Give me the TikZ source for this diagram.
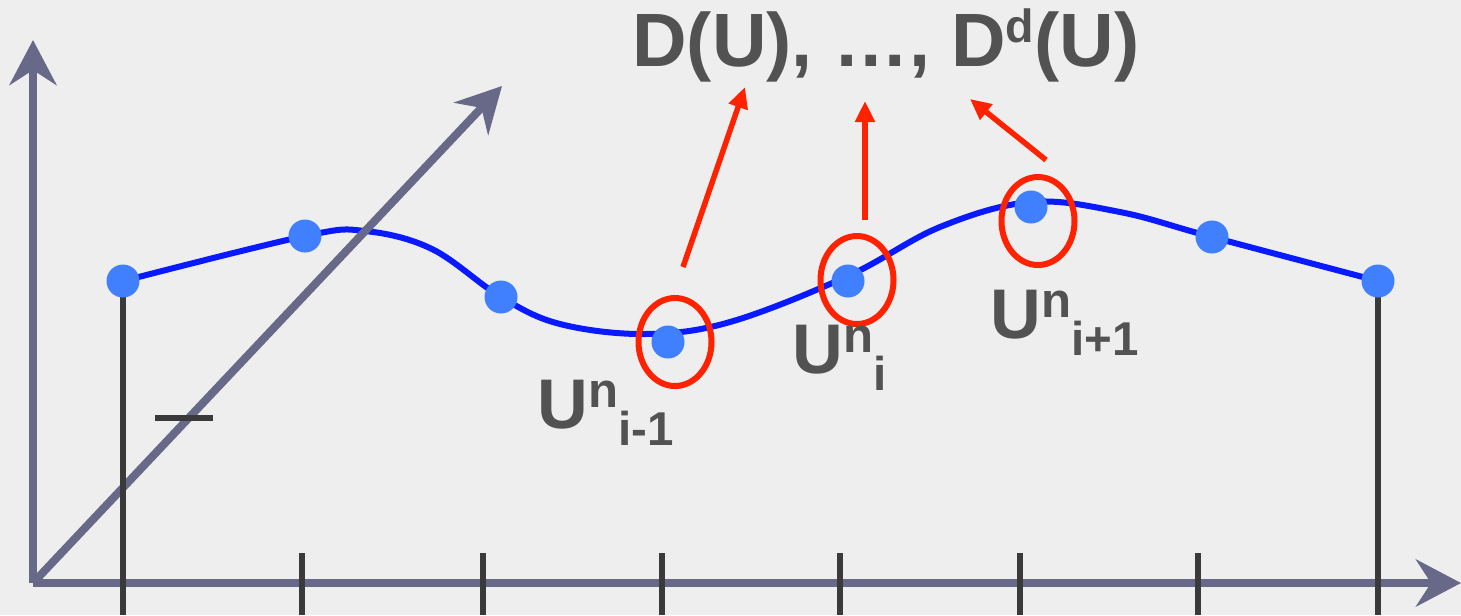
\documentclass[tikz,border=0pt]{standalone}
\usepackage{fontspec}
\setmainfont{Liberation Sans}
\usetikzlibrary{arrows.meta,shapes.geometric}
\definecolor{bggray}{RGB}{238,238,238}
\definecolor{axisgray}{RGB}{104,104,136}
\definecolor{stemgray}{RGB}{58,58,58}
\definecolor{curveblue}{RGB}{10,26,255}
\definecolor{dotblue}{RGB}{64,128,255}
\definecolor{ringred}{RGB}{255,34,0}
\definecolor{labgray}{RGB}{82,82,82}
\newcommand{\ulab}[1]{U\raisebox{4.2mm}{\fontsize{28}{28}\selectfont n}\raisebox{-3.5mm}{\fontsize{27}{27}\selectfont #1}}
\begin{document}
\begin{tikzpicture}[x=0.2mm,y=-0.2mm,line join=round,
	axis/.style={draw=axisgray,line width=1.6mm,-{Stealth[length=9mm,width=9.4mm,inset=3mm]}},
	stem/.style={draw=stemgray,line width=1.1mm},
	curve/.style={draw=curveblue,line width=1.2mm},
	dot/.style={circle,fill=dotblue,minimum size=6.6mm,inner sep=0},
	ring/.style={ellipse,draw=ringred,line width=1.2mm,minimum width=14.6mm,minimum height=17.6mm,inner sep=0},
	pick/.style={draw=ringred,line width=1.1mm,-{Triangle[length=4.2mm,width=3.8mm]}},
	lab/.style={anchor=base west,inner sep=0,text=labgray,font=\bfseries\fontsize{40}{40}\selectfont}]
	\useasboundingbox (0,0) rectangle (1461,615);
	\fill[bggray] (0,0) rectangle (1461,615);
	% the function
	\draw[curve] plot[smooth,tension=0.6] coordinates {(123,281) (305,236) (365,231) (432,249) (501,297) (560,324) (645,334) (730,322) (848,276) (940,227) (1031,202) (1120,212) (1212,237) (1378,281)};
	% axes
	\coordinate (O) at (33,583);
	\coordinate (xend) at (1461,583);
	\coordinate (yend) at (33,40);
	\coordinate (zend) at (502,86);
	\draw[axis] (O) -- (xend);
	\draw[axis] (O) -- (yend);
	\draw[axis] (O) -- (zend);
	% grid points
	\foreach \x in {302,483,662,840,1020,1198}
		\draw[stem] (\x,553) -- (\x,615);
	\draw[stem] (155,418) -- (213,418);
	\foreach \n/\x/\y in {1/123/281,2/305/236,3/501/297,4/668/342,5/848/281,6/1031/207,7/1212/237,8/1378/281}
		\coordinate (c\n) at (\x,\y);
	\draw[stem] (c1) -- (123,615);
	\draw[stem] (c8) -- (1378,615);
	\foreach \n in {1,...,8}
		\node[dot] (p\n) at (c\n) {};
	% stencil
	\node[ring] (e1) at (675,342) {};
	\node[ring] (e2) at (857,280) {};
	\node[ring] (e3) at (1038,221) {};
	\node[lab,font=\bfseries\fontsize{43}{43}\selectfont] (title) at (632,66) {D(U), …, D\raisebox{4.7mm}{\fontsize{26.5}{26.5}\selectfont d}(U)};
	\coordinate (s1) at (683,267); \coordinate (t1) at (745,87);
	\coordinate (s2) at (865,220); \coordinate (t2) at (865,101);
	\coordinate (s3) at (1046,160); \coordinate (t3) at (970,99);
	\draw[pick] (s1) -- (t1);
	\draw[pick] (s2) -- (t2);
	\draw[pick] (s3) -- (t3);
	\node[lab] (l1) at (537,428) {\ulab{i-1}};
	\node[lab] (l2) at (792,373) {\ulab{i}};
	\node[lab] (l3) at (990,338) {\ulab{i+1}};
\end{tikzpicture}
\end{document}
